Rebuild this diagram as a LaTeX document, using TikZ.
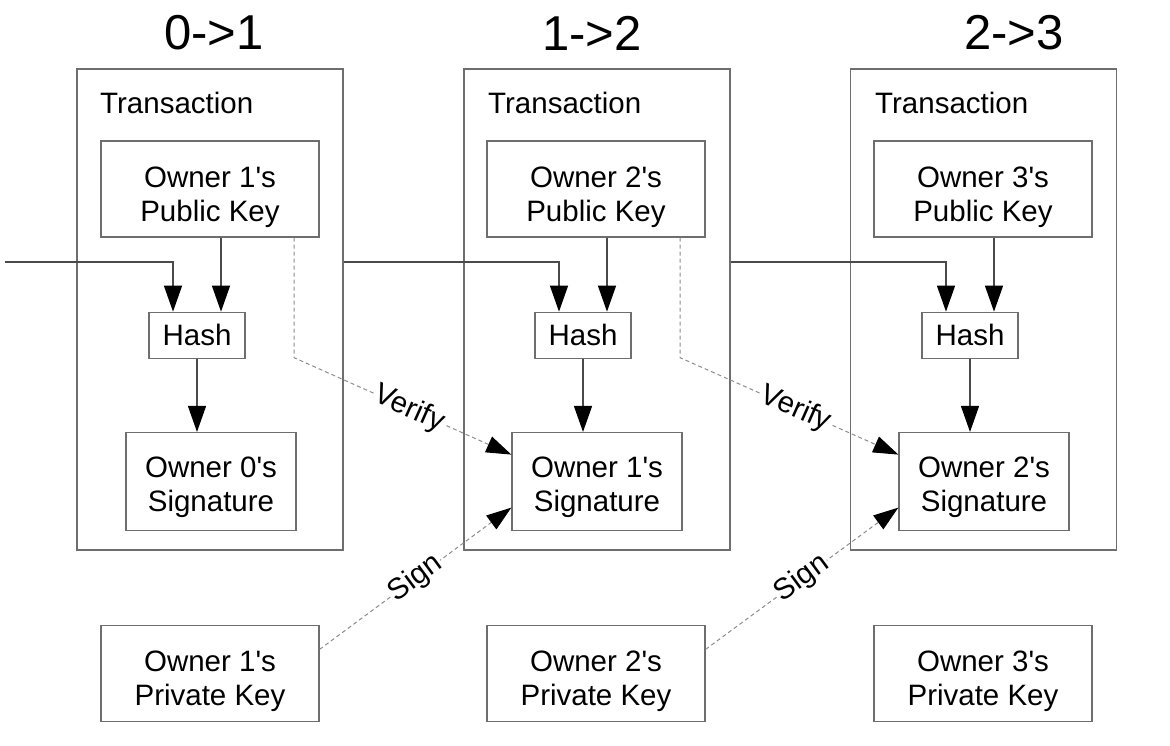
\documentclass[tikz,border=0pt]{standalone}
\usepackage{fontspec}
\setmainfont{Liberation Sans}
\usepackage{tikz}
\usetikzlibrary{positioning,arrows.meta}

\definecolor{boxgray}{HTML}{6E6E6E}
\definecolor{linegray}{HTML}{4A4A4A}
\definecolor{dashgray}{HTML}{8C8C8C}

\newcommand{\ap}{\textquotesingle}
\newcommand{\kup}{\rule{0pt}{36.5pt}}
\newcommand{\sgup}{\rule{0pt}{32pt}}

\tikzset{
    frame/.style={draw=boxgray, line width=1.3pt, minimum width=266pt, minimum height=481pt},
    box/.style={draw=boxgray, line width=1.3pt, align=center, inner sep=0pt, font=\fontsize{29.5}{34}\selectfont},
    key/.style={box, minimum width=218pt, minimum height=96pt},
    hashbox/.style={box, minimum width=96pt, minimum height=46pt},
    sigbox/.style={box, minimum width=170pt, minimum height=98pt},
    title/.style={font=\fontsize{49}{55}\selectfont},
    tlabel/.style={anchor=base west, inner sep=0pt, font=\fontsize{29.5}{34}\selectfont},
    conn/.style={draw=linegray, line width=1.3pt, -{Triangle[length=26pt,width=18pt,color=black]}},
    dashline/.style={draw=dashgray, line width=1pt, dash pattern=on 4pt off 3pt, -{Triangle[length=25pt,width=17pt,color=black]}},
    lbl/.style={sloped, fill=white, inner sep=1pt, font=\fontsize{29.5}{34}\selectfont}
}

\begin{document}
\begin{tikzpicture}[x=1pt, y=-1pt, node distance=74pt]

    \useasboundingbox (0,0) rectangle (1170,745);

    % titles
    \node (n1) [title] at (214,33) {0->1};
    \node (n2) [title] at (592,33) {1->2};
    \node (n3) [title] at (1014,33) {2->3};

    % transaction frames
    \node (t1) [frame] at (210,309.5) {};
    \node (t2) [frame] at (597,309.5) {};
    \node (t3) [frame] at (983.5,309.5) {};
    \node (l1) [tlabel] at (100,113) {Transaction};
    \node (l2) [tlabel] at (488,113) {Transaction};
    \node (l3) [tlabel] at (875,113) {Transaction};

    % public keys
    \node (pk1) [key] at (210,189) {\kup Owner 1\ap s\\Public Key};
    \node (pk2) [key] at (596,189) {\kup Owner 2\ap s\\Public Key};
    \node (pk3) [key] at (983,189) {\kup Owner 3\ap s\\Public Key};

    % hashes
    \node (h1) [hashbox, below=of pk1, xshift=-13pt] {Hash};
    \node (h2) [hashbox, below=of pk2, xshift=-13pt] {Hash};
    \node (h3) [hashbox, below=of pk3, xshift=-13pt] {Hash};

    % signatures
    \node (s1) [sigbox, below=73pt of h1, xshift=14pt] {\sgup Owner 0\ap s\\Signature};
    \node (s2) [sigbox, below=73pt of h2, xshift=14pt] {\sgup Owner 1\ap s\\Signature};
    \node (s3) [sigbox, below=73pt of h3, xshift=14pt] {\sgup Owner 2\ap s\\Signature};

    % private keys
    \node (pr1) [key, below=387pt of pk1] {\kup Owner 1\ap s\\Private Key};
    \node (pr2) [key, below=387pt of pk2] {\kup Owner 2\ap s\\Private Key};
    \node (pr3) [key, below=387pt of pk3] {\kup Owner 3\ap s\\Private Key};

    \coordinate (in) at (5,262);

    % previous transaction into hash
    \draw[conn] (in) -| ([xshift=-24pt]h1.north);
    \draw[conn] (t1.east |- in) -| ([xshift=-24pt]h2.north);
    \draw[conn] (t2.east |- in) -| ([xshift=-24pt]h3.north);

    % public key into hash
    \draw[conn] ([xshift=24pt]h1.north |- pk1.south) -- ([xshift=24pt]h1.north);
    \draw[conn] ([xshift=24pt]h2.north |- pk2.south) -- ([xshift=24pt]h2.north);
    \draw[conn] ([xshift=24pt]h3.north |- pk3.south) -- ([xshift=24pt]h3.north);

    % hash into signature
    \draw[conn] (h1.south) -- (h1.south |- s1.north);
    \draw[conn] (h2.south) -- (h2.south |- s2.north);
    \draw[conn] (h3.south) -- (h3.south |- s3.north);

    % verify
    \draw[dashline] ([xshift=84pt]pk1.south) -- ++(0,120) -- node[lbl, pos=0.53] {Verify} ([yshift=27pt]s2.west);
    \draw[dashline] ([xshift=84pt]pk2.south) -- ++(0,120) -- node[lbl, pos=0.53] {Verify} ([yshift=27pt]s3.west);

    % sign
    \draw[dashline] ([yshift=24pt]pr1.east) -- node[lbl] {Sign} ([yshift=-26pt]s2.west);
    \draw[dashline] ([yshift=24pt]pr2.east) -- node[lbl] {Sign} ([yshift=-26pt]s3.west);

\end{tikzpicture}
\end{document}
